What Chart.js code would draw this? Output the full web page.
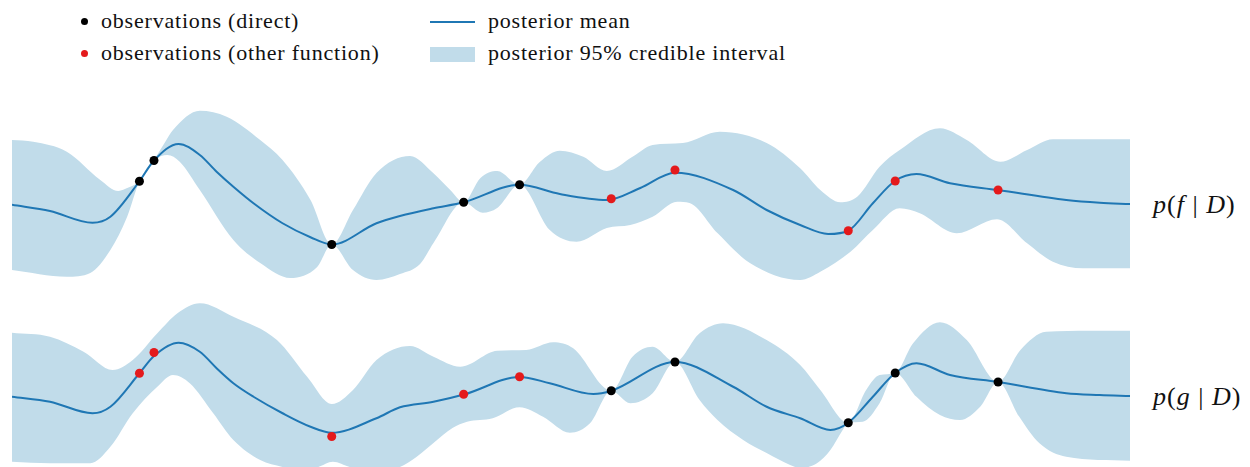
<!DOCTYPE html>
<html>
<head>
<meta charset="utf-8">
<script src="https://cdn.jsdelivr.net/npm/chart.js@4.4.1/dist/chart.umd.min.js"></script>
<style>
  body { margin: 0; width: 1250px; height: 467px; position: relative; background: #fff; overflow: hidden; font-family: "Liberation Serif", serif; color: #111; }
  canvas { position: absolute; left: 12px; }
  .lg { position: absolute; font-family: "Liberation Serif", serif; font-size: 22px; line-height: 22px; letter-spacing: 0.8px; white-space: nowrap; }
  .dot { position: absolute; width: 7px; height: 7px; border-radius: 50%; }
  .lab { position: absolute; left: 1153px; font-family: "Liberation Serif", serif; font-size: 26px; line-height: 30px; letter-spacing: 1px; white-space: nowrap; }
</style>
</head>
<body>
<div class="dot" style="left:81px;top:18px;background:#000"></div>
<div class="lg" style="left:101px;top:10px">observations (direct)</div>
<div class="dot" style="left:81px;top:50px;background:#e41a1c"></div>
<div class="lg" style="left:101px;top:42px">observations (other function)</div>
<div style="position:absolute;left:430px;top:21px;width:45px;height:2px;background:#1f77b4"></div>
<div class="lg" style="left:488px;top:10px">posterior mean</div>
<div style="position:absolute;left:430px;top:47px;width:45px;height:15px;background:#c1dcea"></div>
<div class="lg" style="left:488px;top:42px">posterior 95% credible interval</div>

<canvas id="fChart" width="1118" height="210" style="top:90px"></canvas>
<canvas id="gChart" width="1118" height="167" style="top:300px"></canvas>

<div class="lab" style="top:190px"><i>p</i>(<i>f</i> | <i>D</i>)</div>
<div class="lab" style="top:382px"><i>p</i>(<i>g</i> | <i>D</i>)</div>

<script>
// observations: f is observed at the first five inputs, g at the last five
const obsFX = [1.14, 1.27, 2.86, 4.04, 4.54];
const obsFY = [0.95, 1.78, -1.58, 0.11, 0.81];
const obsGX = [5.36, 5.93, 7.48, 7.90, 8.82];
const obsGY = [0.25, 1.4, -1.03, 0.96, 0.6];

// posterior of f
const fMeanX = [0, 0.34, 0.72, 0.88, 1.14, 1.27, 1.49, 1.68, 1.83, 1.98, 2.16, 2.42, 2.67, 2.86, 3.26, 3.47, 3.77, 4.04, 4.54, 4.90, 5.32, 5.62, 5.93, 6.45, 6.75, 7.05, 7.30, 7.48, 7.70, 7.90, 8.09, 8.39, 8.82, 9.43, 9.73, 10];
const fMeanY = [0.01, -0.24, -0.71, -0.47, 0.95, 1.78, 2.44, 2.0, 1.33, 0.73, 0.07, -0.73, -1.29, -1.58, -0.73, -0.44, -0.13, 0.11, 0.81, 0.44, 0.2, 0.68, 1.29, 0.6, -0.2, -0.8, -1.16, -1.03, 0.07, 0.97, 1.24, 0.87, 0.6, 0.2, 0.09, 0.04];
const fUpperX = [0, 0.19, 0.49, 0.79, 0.95, 1.01, 1.14, 1.27, 1.37, 1.44, 1.68, 1.92, 2.22, 2.42, 2.67, 2.86, 3.05, 3.26, 3.56, 3.77, 3.92, 4.04, 4.19, 4.34, 4.54, 4.72, 4.90, 5.11, 5.32, 5.55, 5.73, 6.0, 6.33, 6.75, 7.05, 7.23, 7.41, 7.56, 7.76, 7.94, 8.30, 8.54, 8.84, 9.08, 9.31, 9.64, 10];
const fUpperY = [2.6, 2.53, 2.13, 1.0, 0.56, 0.64, 0.96, 1.8, 2.52, 3.0, 3.77, 3.53, 2.6, 1.8, 0.2, -1.58, -0.2, 1.28, 1.96, 1.27, 0.6, 0.11, 1.08, 1.36, 0.81, 1.72, 2.17, 1.93, 1.36, 1.93, 2.4, 2.48, 2.93, 2.48, 1.47, 0.6, 0.11, 0.33, 1.53, 2.2, 3.07, 2.6, 1.73, 2.2, 2.63, 2.63, 2.63];
const fLowerX = [0, 0.49, 0.70, 0.88, 1.03, 1.14, 1.27, 1.39, 1.50, 1.68, 1.98, 2.22, 2.49, 2.73, 2.86, 3.05, 3.26, 3.47, 3.65, 3.77, 4.04, 4.21, 4.34, 4.54, 4.81, 5.05, 5.32, 5.53, 5.73, 5.95, 6.06, 6.31, 6.60, 7.05, 7.23, 7.50, 7.70, 7.94, 8.12, 8.45, 8.81, 9.08, 9.31, 9.58, 10];
const fLowerY = [-2.6, -2.87, -2.72, -1.8, -0.47, 0.95, 1.78, 2.0, 1.73, 0.6, -1.4, -2.32, -2.92, -2.48, -1.58, -2.6, -3.0, -2.76, -2.36, -1.52, 0.11, -0.31, -0.12, 0.81, -1.0, -1.47, -0.92, -0.8, -0.47, 0.13, 0.08, -1.12, -2.32, -3.0, -2.67, -1.87, -1.0, -0.13, -0.33, -1.13, -0.57, -1.53, -2.27, -2.53, -2.53];

// posterior of g
const gMeanX = [0, 0.34, 0.72, 0.88, 1.14, 1.27, 1.49, 1.68, 1.83, 1.98, 2.16, 2.42, 2.67, 2.86, 3.26, 3.47, 3.77, 4.05, 4.54, 4.81, 5.20, 5.36, 5.93, 6.45, 6.75, 7.05, 7.32, 7.48, 7.70, 7.90, 8.09, 8.39, 8.82, 9.43, 9.73, 10];
const gMeanY = [0.01, -0.19, -0.65, -0.39, 0.95, 1.64, 2.17, 1.81, 1.15, 0.55, 0.01, -0.65, -1.19, -1.43, -0.85, -0.41, -0.19, 0.11, 0.8, 0.55, 0.12, 0.25, 1.4, 0.41, -0.39, -0.85, -1.32, -1.03, 0.01, 0.96, 1.35, 0.88, 0.6, 0.15, 0.08, 0.04];
const gUpperX = [0, 0.34, 0.64, 0.90, 1.08, 1.30, 1.48, 1.68, 1.98, 2.37, 2.64, 2.86, 3.05, 3.26, 3.56, 3.77, 4.01, 4.34, 4.60, 4.84, 5.02, 5.36, 5.55, 5.73, 5.93, 6.15, 6.36, 6.75, 7.05, 7.23, 7.48, 7.64, 7.76, 7.90, 8.06, 8.30, 8.54, 8.82, 9.02, 9.25, 9.64, 10];
const gUpperY = [2.57, 2.41, 1.81, 1.08, 1.48, 2.55, 3.35, 3.75, 3.21, 2.28, 0.81, -0.28, 0.28, 1.48, 2.04, 1.61, 1.21, 1.85, 1.88, 2.19, 1.95, 0.25, 1.61, 2.01, 1.4, 2.55, 2.95, 2.28, 1.28, 0.28, -1.03, 0.28, 0.88, 0.96, 2.15, 2.99, 2.28, 0.6, 1.88, 2.61, 2.65, 2.65];
const gLowerX = [0, 0.34, 0.70, 0.88, 1.08, 1.30, 1.44, 1.59, 1.80, 1.98, 2.22, 2.42, 2.58, 2.74, 2.87, 3.02, 3.25, 3.47, 3.62, 3.77, 3.94, 4.07, 4.30, 4.54, 4.75, 4.99, 5.17, 5.36, 5.53, 5.73, 5.93, 6.15, 6.31, 6.54, 6.75, 6.96, 7.05, 7.20, 7.32, 7.43, 7.48, 7.61, 7.76, 7.90, 8.09, 8.30, 8.48, 8.66, 8.82, 9.01, 9.19, 9.43, 10];
const gLowerY = [-2.59, -2.65, -2.65, -1.99, -0.65, 0.41, 0.88, 0.55, -0.65, -1.72, -2.52, -2.8, -3.0, -2.8, -2.59, -2.8, -3.0, -2.8, -2.39, -1.84, -1.24, -0.99, -0.85, -0.41, -0.79, -1.43, -1.05, 0.25, -0.25, 0.15, 1.4, -0.12, -0.92, -1.72, -2.24, -2.72, -2.84, -2.65, -2.12, -1.32, -1.03, -0.99, -0.25, 0.96, 0.01, -0.72, -0.92, -0.39, 0.6, -0.79, -1.85, -2.39, -2.55];

const bandColor = "#c1dcea";
const meanColor = "#1f77b4";
const redColor = "#e41a1c";

const zip = (xs, ys) => xs.map((x, i) => ({ x: x, y: ys[i] }));

const makePanel = (id, yMin, yMax, p) => {
  return new Chart(document.getElementById(id), {
    type: "line",
    data: {
      datasets: [
        { type: "scatter", data: zip(p.blackX, p.blackY), backgroundColor: "#000", borderWidth: 0, pointRadius: 4.5, clip: false },
        { type: "scatter", data: zip(p.redX, p.redY), backgroundColor: redColor, borderWidth: 0, pointRadius: 4.5, clip: false },
        { data: zip(p.meanX, p.meanY), borderColor: meanColor, borderWidth: 2, pointRadius: 0, fill: false },
        { data: zip(p.upX, p.upY), borderWidth: 0, pointRadius: 0, backgroundColor: bandColor, fill: "+1" },
        { data: zip(p.loX, p.loY), borderWidth: 0, pointRadius: 0, fill: false },
      ],
    },
    options: {
      responsive: false,
      animation: false,
      devicePixelRatio: 1,
      cubicInterpolationMode: "monotone",
      layout: { padding: 0, autoPadding: false },
      scales: {
        x: { type: "linear", min: 0, max: 10, display: false },
        y: { min: yMin, max: yMax, display: false },
      },
      plugins: { legend: { display: false }, tooltip: { enabled: false } },
    },
  });
};

makePanel("fChart", -3.8, 4.6, {
  blackX: obsFX, blackY: obsFY, redX: obsGX, redY: obsGY,
  meanX: fMeanX, meanY: fMeanY, upX: fUpperX, upY: fUpperY, loX: fLowerX, loY: fLowerY,
});
makePanel("gChart", -2.8, 3.88, {
  blackX: obsGX, blackY: obsGY, redX: obsFX, redY: obsFY,
  meanX: gMeanX, meanY: gMeanY, upX: gUpperX, upY: gUpperY, loX: gLowerX, loY: gLowerY,
});
</script>
</body>
</html>
